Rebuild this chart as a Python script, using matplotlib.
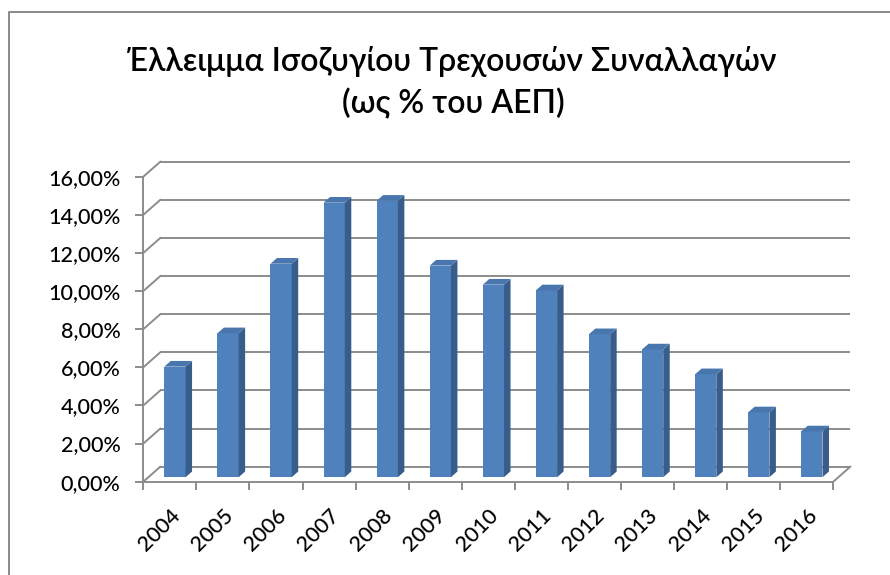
import matplotlib
matplotlib.use('Agg')
import matplotlib.pyplot as plt
from matplotlib.transforms import Affine2D, IdentityTransform
from matplotlib.patches import Polygon
from matplotlib.lines import Line2D
import numpy as np

# ---------------- data ----------------
years = ['2004', '2005', '2006', '2007', '2008', '2009', '2010',
         '2011', '2012', '2013', '2014', '2015', '2016']
deficit = [5.8, 7.55, 11.2, 14.4, 14.5, 11.1, 10.1, 9.8, 7.5, 6.7, 5.4, 3.4, 2.4]
y_ticks = [0, 2, 4, 6, 8, 10, 12, 14, 16]
y_tick_labels = ['0,00%', '2,00%', '4,00%', '6,00%', '8,00%', '10,00%',
                 '12,00%', '14,00%', '16,00%']
title_line1 = 'Έλλειμμα Ισοζυγίου Τρεχουσών Συναλλαγών'
title_line2 = '(ως % του ΑΕΠ)'

# ---------------- style ----------------
W, H, DPI = 890, 575, 100
FONT = ['Lato', 'DejaVu Sans']
plt.rcParams['font.family'] = FONT
GRID = '#8c8c8c'
FRONT = '#4f81bd'
SIDE = '#385d8a'
TOP = '#4876ad'
BACK = (17, 15)        # pixel offset of the back wall
BAR_FRONT = (5.1, 4.5)  # pixel offset of the bars' front face
BAR_DEPTH = (6.5, 5.7)  # pixel depth of bars

fig = plt.figure(figsize=(W / DPI, H / DPI), dpi=DPI)
ax = fig.add_axes([143.3 / W, (H - 481.7) / H, (833.3 - 143.3) / W, (481.7 - 176.7) / H])
n = len(years)
x = np.arange(n)
ax.set_xlim(-0.5, n - 0.5)
ax.set_ylim(0, 16)
ax.patch.set_visible(False)
for s in ['top', 'right']:
    ax.spines[s].set_visible(False)
for s in ['left', 'bottom']:
    ax.spines[s].set_color(GRID)
    ax.spines[s].set_linewidth(1.4)

# back wall gridlines
back_t = ax.transData + Affine2D().translate(*BACK)
for t in y_ticks:
    ax.plot([-0.5, n - 0.5], [t, t], transform=back_t, color=GRID, lw=1.4,
            clip_on=False, zorder=1, solid_capstyle='butt')
    p0 = ax.transData.transform((-0.5, t))
    fig.add_artist(Line2D([p0[0], p0[0] + BACK[0]], [p0[1], p0[1] + BACK[1]],
                          transform=IdentityTransform(), color=GRID, lw=1.4))
p0 = ax.transData.transform((n - 0.5, 0))
fig.add_artist(Line2D([p0[0], p0[0] + BACK[0]], [p0[1], p0[1] + BACK[1]],
                      transform=IdentityTransform(), color=GRID, lw=1.4))

# ticks
ax.set_yticks(y_ticks, y_tick_labels)
ax.tick_params(axis='y', length=8 * 0.72, width=1.4, color=GRID, pad=15 * 0.72,
               labelsize=15.5, labelcolor='#000000')
ax.set_xticks(x, years)
ax.set_xticks(np.arange(-0.5, n), minor=True)
ax.tick_params(axis='x', which='major', length=0, pad=24 * 0.72, labelsize=15.5,
               labelcolor='#000000')
ax.tick_params(axis='x', which='minor', length=8 * 0.72, width=1.4, color=GRID)
for lab in ax.get_xticklabels():
    lab.set_rotation(45)
    lab.set_ha('right')
    lab.set_va('top')
    lab.set_rotation_mode('anchor')
    lab.set_fontweight('medium')
for lab in ax.get_yticklabels():
    lab.set_fontweight('medium')

# bars (pseudo 3D)
bar_t = ax.transData + Affine2D().translate(*BAR_FRONT)
bw = 0.4
ax.bar(x, deficit, width=bw, color=FRONT, transform=bar_t, clip_on=False, zorder=3)
for xi, v in zip(x, deficit):
    bl = bar_t.transform((xi + bw / 2, 0))
    tr = bar_t.transform((xi + bw / 2, v))
    tl = bar_t.transform((xi - bw / 2, v))
    dx, dy = BAR_DEPTH
    side = Polygon([bl, tr, (tr[0] + dx, tr[1] + dy), (bl[0] + dx, bl[1] + dy)],
                   closed=True, transform=IdentityTransform(), facecolor=SIDE,
                   edgecolor='none', zorder=3)
    top = Polygon([tl, tr, (tr[0] + dx, tr[1] + dy), (tl[0] + dx, tl[1] + dy)],
                  closed=True, transform=IdentityTransform(), facecolor=TOP,
                  edgecolor='none', zorder=3)
    fig.add_artist(side)
    fig.add_artist(top)

# chart frame (left and top edges)
fig.add_artist(Line2D([9, 9, W], [0, H - 12, H - 12], transform=IdentityTransform(),
                      color=GRID, lw=2 * 0.72))

# title, fitted to the reference width
fs = 26
t1 = fig.text(452 / W, (H - 71) / H, title_line1, ha='center', va='baseline',
              fontsize=fs, color='#000000', fontweight='semibold')
fig.canvas.draw()
r = fig.canvas.get_renderer()
w1 = t1.get_window_extent(r).width
fs = fs * 650 / w1
t1.set_fontsize(fs)
fig.text(453 / W, (H - 113) / H, title_line2, ha='center', va='baseline',
         fontsize=fs, color='#000000', fontweight='semibold')

fig.savefig('out.png', dpi=DPI)
